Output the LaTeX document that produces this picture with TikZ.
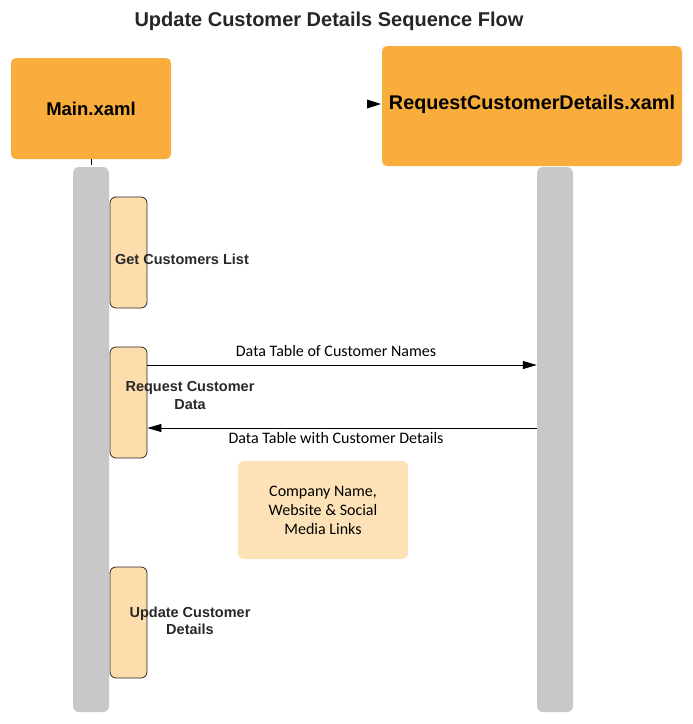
\documentclass[tikz,border=0pt]{standalone}
\usepackage{fontspec}
\setmainfont{Liberation Sans}
\newfontfamily\calfont{Carlito}
\usetikzlibrary{arrows.meta}
\definecolor{hdr}{RGB}{249,173,61}
\definecolor{actfill}{RGB}{253,221,172}
\definecolor{notefill}{RGB}{253,226,184}
\definecolor{lifegray}{RGB}{200,200,202}
\definecolor{txtdark}{RGB}{40,40,40}
\begin{document}
\begin{tikzpicture}[x=1pt,y=-1pt,
  header/.style={fill=hdr, rounded corners=5pt, inner sep=0pt, font=\fontsize{18.5}{22}\selectfont\bfseries},
  lifeline/.style={fill=lifegray, rounded corners=6pt, minimum width=36pt, minimum height=545pt, inner sep=0pt},
  actbox/.style={draw=black!85, line width=0.8pt, fill=actfill, rounded corners=6pt, minimum width=37pt, minimum height=111pt, inner sep=0pt},
  actlabel/.style={font=\fontsize{14.5}{17.5}\selectfont\bfseries, text=txtdark, align=center, inner sep=0pt},
  msglabel/.style={font=\calfont\fontsize{16}{18}\selectfont, inner sep=0pt},
  msg/.style={line width=0.8pt, -{Triangle[length=14pt,width=8pt]}},
  note/.style={fill=notefill, rounded corners=6pt, minimum width=170pt, minimum height=98pt, inner sep=0pt, align=center, font=\calfont\fontsize{16}{19}\selectfont}
]
\useasboundingbox (0,0) rectangle (693,724);
\node[font=\fontsize{20}{23}\selectfont\bfseries, text=black!85] (title) at (329,21) {Update Customer Details Sequence Flow};

\node[header, minimum width=160pt, minimum height=101pt] (main) at (91,108.5) {Main.xaml};
\node[header, minimum width=300pt, minimum height=120pt] (rcd) at (532,106) {};
\node[font=\fontsize{19.8}{22}\selectfont\bfseries, inner sep=0pt] (rcdtext) at (532,104) {RequestCustomerDetails.xaml};
\fill (367,99.5) -- (381,104) -- (367,108.5) -- cycle;

\coordinate (tickend) at (91,165);
\draw[line width=0.6pt] (main.south) -- (tickend);

\node[lifeline] (ll1) at (91,439.5) {};
\node[lifeline] (ll2) at (555,439.5) {};

\node[actbox] (act1) at (128.5,252.5) {};
\node[actbox] (act2) at (128.5,402.5) {};
\node[actbox] (act3) at (128.5,622.5) {};

\node[actlabel] (lab1) at (182,259) {Get Customers List};
\node[actlabel] (lab2) at (190,395.5) {Request Customer\\Data};
\node[actlabel] (lab3) at (190,621) {Update Customer\\Details};

\coordinate (m1) at (0,365);
\coordinate (m2) at (0,428);
\draw[msg] (act2.east |- m1) -- (ll2.west |- m1);
\draw[msg] (ll2.west |- m2) -- (act2.east |- m2);
\node[msglabel] (ml1) at (336,351) {Data Table of Customer Names};
\node[msglabel] (ml2) at (336,438) {Data Table with Customer Details};

\node[note] (nt) at (323,510) {Company Name,\\Website \& Social\\Media Links};
\end{tikzpicture}
\end{document}
